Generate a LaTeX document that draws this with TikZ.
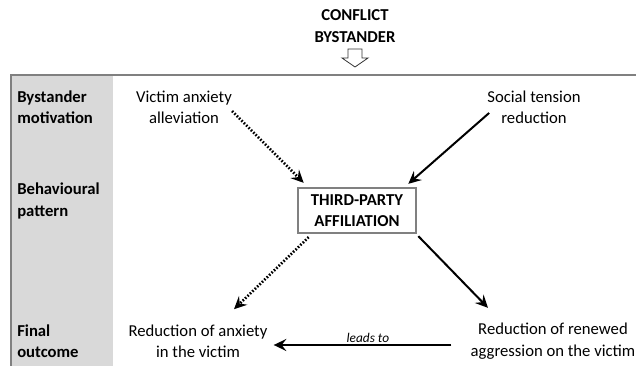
\documentclass[tikz,border=0pt]{standalone}
\usepackage{fontspec}
\setmainfont{Carlito}
\usetikzlibrary{arrows.meta,calc}
\definecolor{colgray}{RGB}{217,217,217}
\definecolor{framegray}{RGB}{128,128,128}
\begin{document}
\begin{tikzpicture}[x=0.75pt,y=-0.75pt,font=\fontsize{12.5}{16}\selectfont,>={Stealth[length=9.5pt,width=9pt,inset=3.5pt]},
 lbl/.style={align=left,anchor=west,inner sep=0pt,font=\fontsize{12.5}{16}\selectfont\bfseries},
 txt/.style={align=center,inner sep=0pt},
 solarr/.style={->,line width=1.5pt},
 dotarr/.style={->,line width=2pt,dash pattern=on 1.2pt off 1.3pt}]
\useasboundingbox (0,0) rectangle (636,366);
\fill[colgray] (11,75) rectangle (113,366);
\draw[framegray,line width=1pt] (11,366) -- (11,75) -- (636,75);
\node[txt,font=\fontsize{12.5}{16.5}\selectfont\bfseries] (cb) at (355,26) {CONFLICT\\BYSTANDER};
\draw[black!80,line width=0.6pt,fill=white] (348,49) -- (362,49) -- (362,58) -- (368,58) -- (355,67) -- (342,58) -- (348,58) -- cycle;
\node[lbl] (bm) at (17,107) {Bystander\\motivation};
\node[lbl] (bp) at (17,201) {Behavioural\\pattern};
\node[lbl] (fo) at (17,341) {Final\\outcome};
\node[txt] (vaa) at (184,107) {Victim anxiety\\alleviation};
\node[txt] (str) at (534,107) {Social tension\\reduction};
\node[draw=framegray,line width=1.5pt,align=center,font=\fontsize{12.5}{16}\selectfont\bfseries,minimum width=89pt,minimum height=34pt] (aff) at (357,210.5) {THIRD-PARTY\\AFFILIATION};
\node[txt] (rav) at (198,341) {Reduction of anxiety\\in the victim};
\node[txt] (rra) at (553,341) {Reduction of renewed\\aggression on the victim};
\draw[dotarr] ($(vaa.east)+(0,4)$) -- ($(aff.north west)+(7,-4)$);
\draw[solarr] ($(str.west)+(2,6)$) -- ($(aff.north east)+(-9,-3)$);
\draw[dotarr] ($(aff.south west)+(12,3)$) -- ($(rav.north)+(36,-15)$);
\draw[solarr] ($(aff.south east)+(1,2)$) -- ($(rra.north)+(-65,-15)$);
\draw[solarr] ($(rra.west)+(-19,4)$) -- ($(rav.east)+(6,4)$)
  node[pos=0.47,above,inner sep=1pt,font=\fontsize{10}{11}\selectfont\itshape] (lt) {leads to};
\end{tikzpicture}
\end{document}
